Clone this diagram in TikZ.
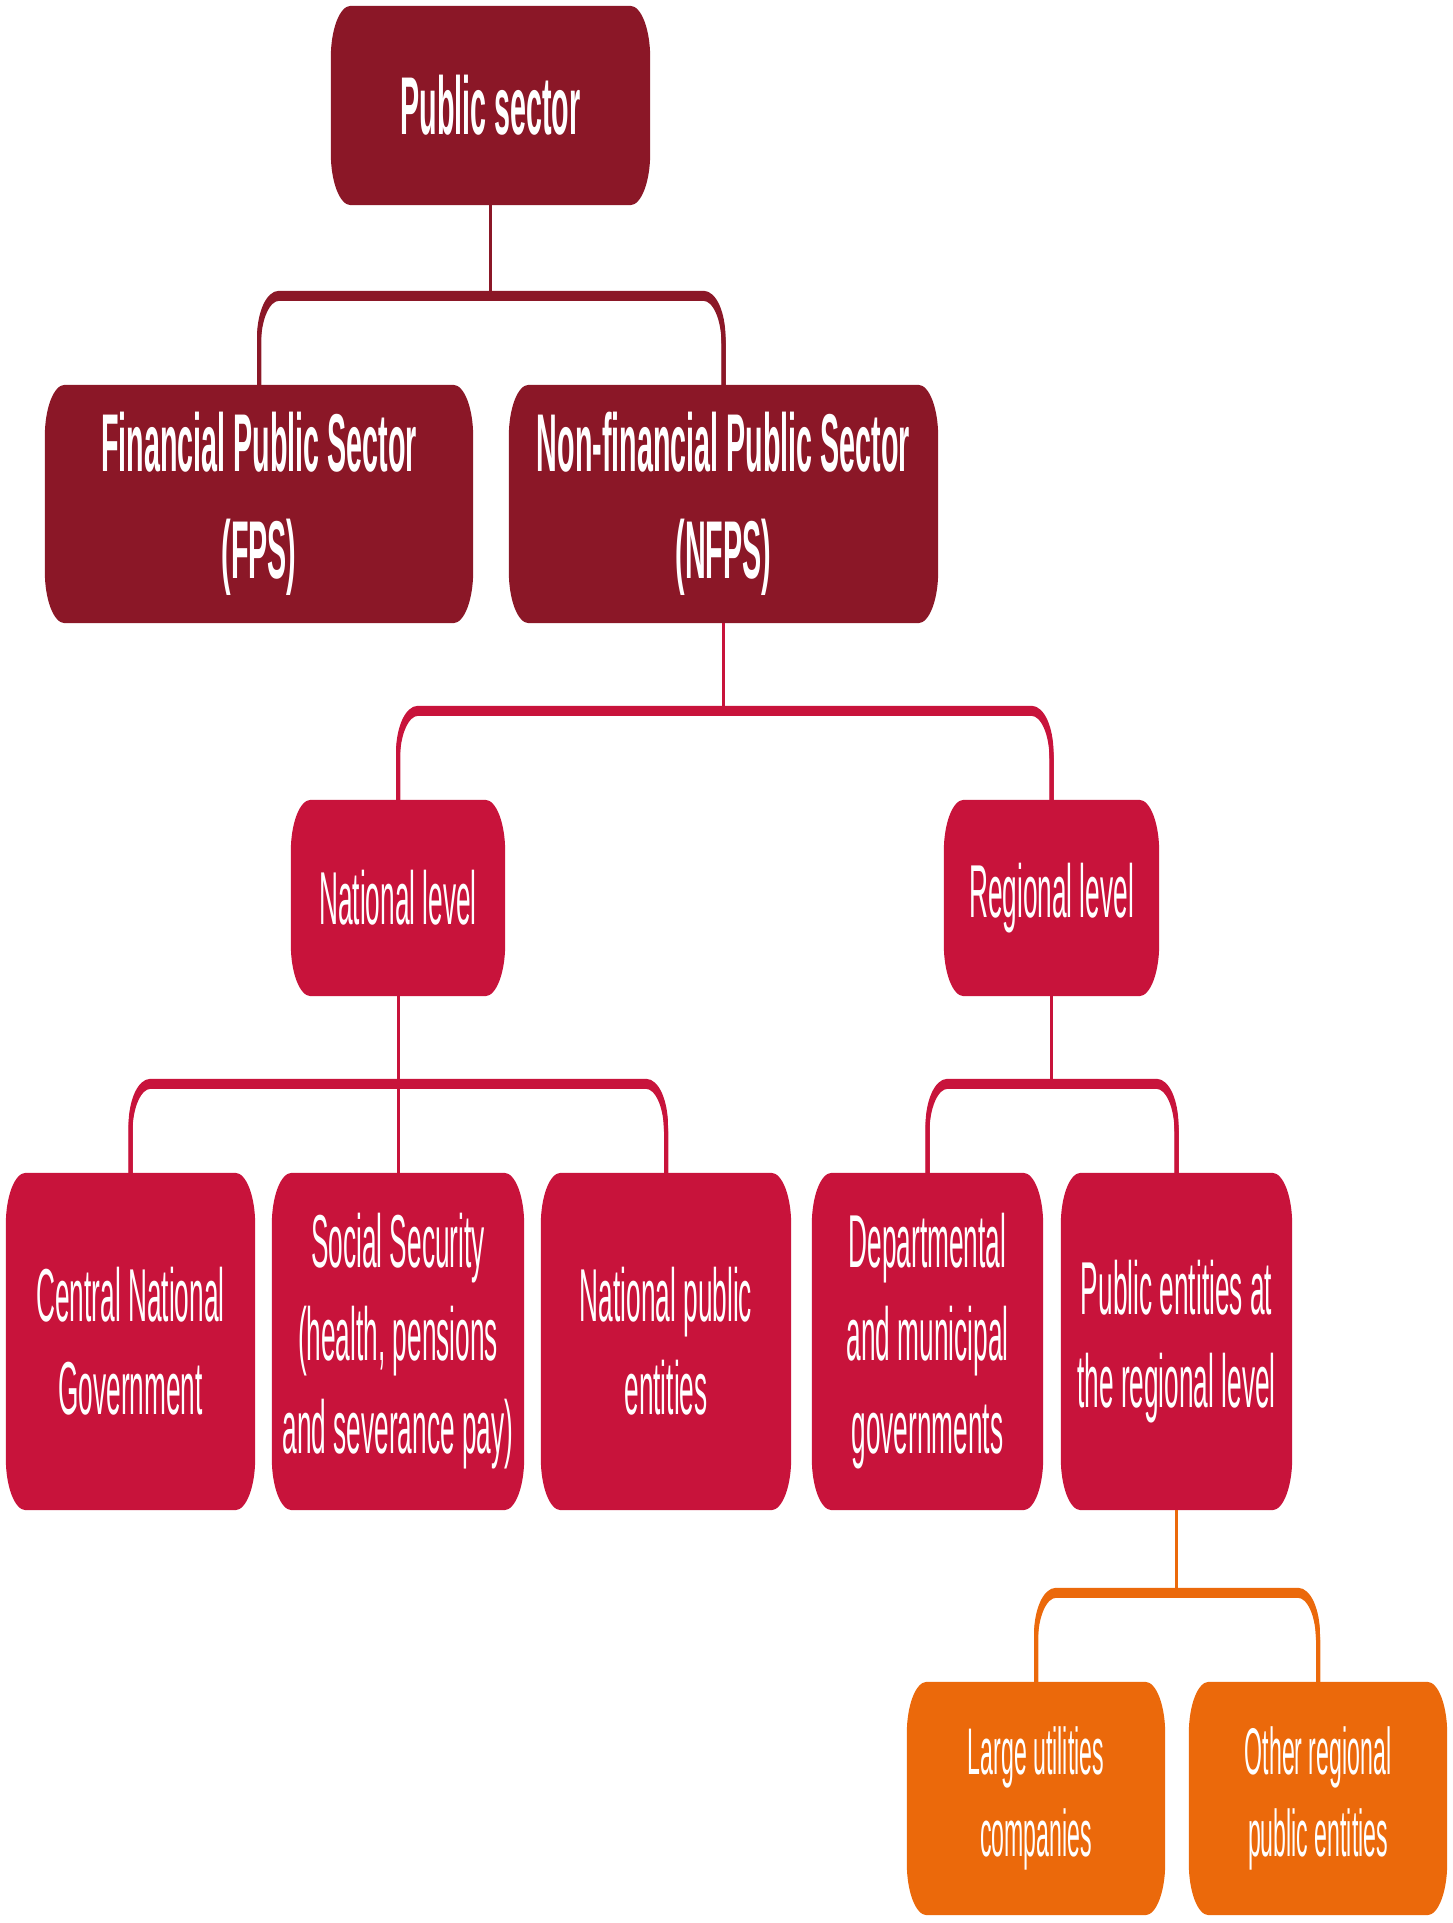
\documentclass[tikz,border=0pt]{standalone}
\usepackage{fontspec}
\setmainfont[FakeStretch=0.35]{Liberation Sans}
\usetikzlibrary{calc,backgrounds}
\definecolor{wine}{HTML}{8B1727}
\definecolor{crimson}{HTML}{C8133B}
\definecolor{tangerine}{HTML}{EB690B}
\def\rx{20pt} \def\ry{52pt} % box corners
\def\bx{20pt} \def\by{45pt} % bracket corners
\def\gap{92pt}
% filled box with oval corners behind a node
\newcommand\boxfill[2]{\fill[#2] let \p1=(#1.south west),\p2=(#1.north east) in
  (\x1+\rx,\y1) -- (\x2-\rx,\y1) arc[start angle=-90,end angle=0,x radius=\rx,y radius=\ry]
  -- (\x2,\y2-\ry) arc[start angle=0,end angle=90,x radius=\rx,y radius=\ry]
  -- (\x1+\rx,\y2) arc[start angle=90,end angle=180,x radius=\rx,y radius=\ry]
  -- (\x1,\y1+\ry) arc[start angle=180,end angle=270,x radius=\rx,y radius=\ry] -- cycle;}
% parent -> two children
\newcommand\branch[4]{%
  \draw[stem,#4] let \p1=(#1.south),\p2=(#2.north) in (\p1) -- (\x1,\y2+\gap);
  \foreach \s in {0pt,3pt,6pt}
  \draw[leg,#4] let \p2=(#2.north),\p3=(#3.north) in (\p2)
    -- (\x2,\y2+\gap-\s-\by) arc[start angle=180,end angle=90,x radius=\bx,y radius=\by]
    -- (\x3-\bx,\y2+\gap-\s) arc[start angle=90,end angle=0,x radius=\bx,y radius=\by]
    -- (\p3);}
\begin{document}
\begin{tikzpicture}[x=1pt,y=1pt,line join=round,
  box/.style={inner sep=0pt,text=white,align=center,font=\fontsize{75}{93}\selectfont},
  head/.style={box,font=\fontsize{82}{107}\selectfont\bfseries},
  sub/.style={box,font=\fontsize{66}{82}\selectfont},
  stem/.style={line width=3pt},
  leg/.style={line width=4pt}]
\useasboundingbox (0,0) rectangle (1453,-1923);
% top levels
\node[head,minimum width=319,minimum height=199] (ps) at (490.5,-105.5) {Public sector};
\node[head,minimum width=428,minimum height=238] (fps) at (259,-504) {Financial Public Sector\\(FPS)};
\node[head,minimum width=429,minimum height=238] (nfps) at (723.5,-504) {Non-financial Public Sector\\(NFPS)};
\node[box,minimum width=214,minimum height=196] (nat) at (398,-898) {National level};
\node[box,minimum width=215,minimum height=196] (reg) at (1051.5,-898) {Regional level};
% entities
\node[box,minimum width=249,minimum height=337] (cng) at (130.5,-1341.5) {Central National\\Government};
\node[box,minimum width=252,minimum height=337] (ss) at (398,-1341.5) {Social Security\\(health, pensions\\and severance pay)};
\node[box,minimum width=250,minimum height=337] (npe) at (666,-1341.5) {National public\\entities};
\node[box,minimum width=231,minimum height=337] (dmg) at (927.5,-1341.5) {Departmental\\and municipal\\governments};
\node[box,minimum width=231,minimum height=337] (perl) at (1176.5,-1341.5) {Public entities at\\the regional level};
\node[sub,minimum width=258,minimum height=233] (luc) at (1036,-1798.5) {Large utilities\\companies};
\node[sub,minimum width=258,minimum height=233] (ore) at (1318,-1798.5) {Other regional\\public entities};
\begin{pgfonlayer}{background}
\foreach \nm/\cl in {ps/wine,fps/wine,nfps/wine,nat/crimson,reg/crimson,cng/crimson,ss/crimson,
  npe/crimson,dmg/crimson,perl/crimson,luc/tangerine,ore/tangerine} \boxfill{\nm}{\cl};
\end{pgfonlayer}
\branch{ps}{fps}{nfps}{wine}
\branch{nfps}{nat}{reg}{crimson}
\branch{nat}{cng}{npe}{crimson}
\draw[stem,crimson] (nat.south) -- (ss.north);
\branch{reg}{dmg}{perl}{crimson}
\branch{perl}{luc}{ore}{tangerine}
\end{tikzpicture}
\end{document}
